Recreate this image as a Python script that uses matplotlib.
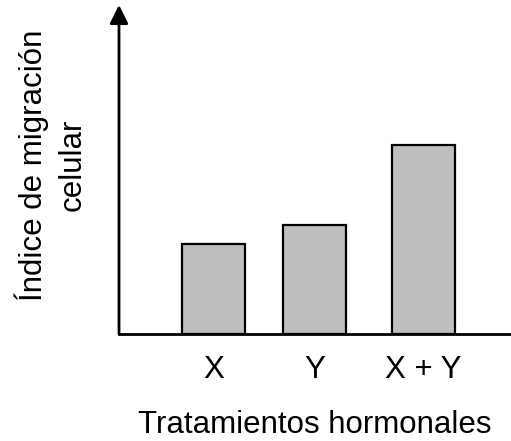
import matplotlib.pyplot as plt

plt.rcParams['font.family'] = ['Liberation Sans', 'DejaVu Sans']

tratamientos = ['X', 'Y', 'X + Y']
indice = [9.0, 10.9, 18.9]  # índice de migración (unidades arbitrarias)
posiciones = [1, 2, 3.08]

fig = plt.figure(figsize=(5.11, 4.41), dpi=100)
ax = fig.add_axes([119 / 511, 107 / 441, 392 / 511, 329 / 441])

ax.bar(posiciones, indice, width=0.62, color='#bebebe', edgecolor='black', linewidth=1.6)

ax.set_xlim(0.064, 3.945)
ax.set_ylim(0, 32.9)

# ejes: solo abajo e izquierda, con flecha arriba
for s in ['top', 'right', 'left']:
    ax.spines[s].set_visible(False)
ax.spines['bottom'].set_linewidth(2)
ax.annotate('', xy=(0, 1), xytext=(0, 0), xycoords='axes fraction',
            arrowprops=dict(arrowstyle='-|>', color='black', lw=2,
                            mutation_scale=28, shrinkA=0, shrinkB=0))

ax.set_xticks(posiciones)
ax.set_xticklabels(tratamientos, fontsize=22.5)
ax.tick_params(axis='x', length=0, pad=15)
ax.set_yticks([])

fig.text(315 / 511, 1 - 425 / 441, 'Tratamientos hormonales', fontsize=22.5,
         ha='center', va='center')
fig.text(51 / 511, 1 - 165 / 441, 'Índice de migración\ncelular', fontsize=22.5,
         ha='center', va='center', rotation=90, linespacing=1.35)

fig.savefig('out.png', dpi=100)
